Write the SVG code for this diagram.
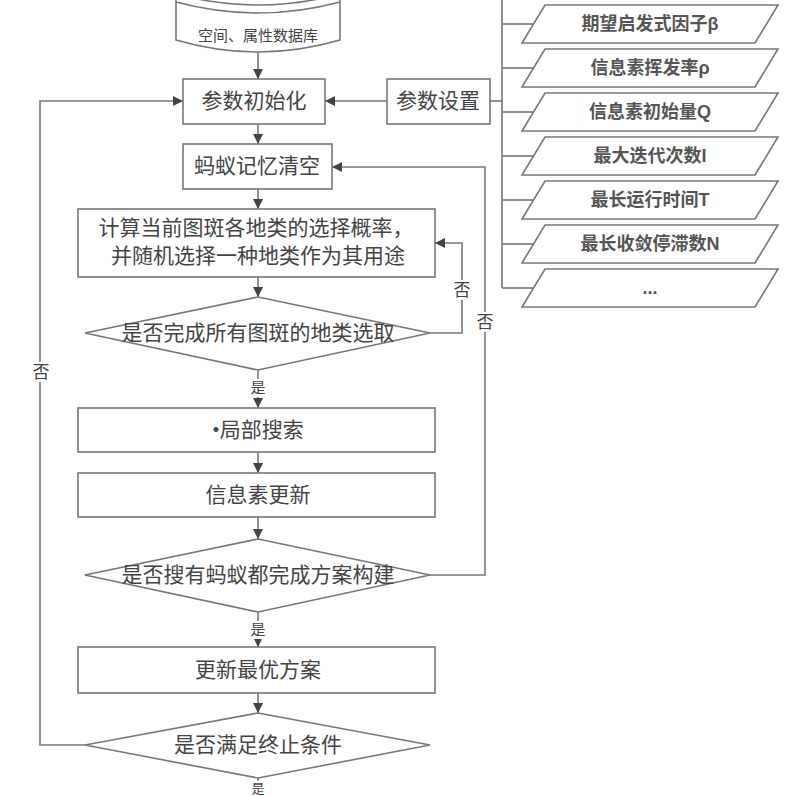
<svg xmlns="http://www.w3.org/2000/svg" width="796" height="796" viewBox="0 0 796 796">
<defs>
<marker id="arr" markerUnits="userSpaceOnUse" markerWidth="10" markerHeight="10" viewBox="0 0 10 10" refX="10" refY="5" orient="auto">
<path d="M0,0 L10,5 L0,10 z" fill="#444"/>
</marker>
</defs>
<style>
.shape{fill:#fff;stroke:#777;stroke-width:1.6}
.ln{fill:none;stroke:#777;stroke-width:1.6}
.t{font-family:"Liberation Serif","Noto Sans CJK SC",serif;fill:#444;text-anchor:middle;dominant-baseline:central}
.big{font-size:21px}
.p{font-size:18px;font-family:"Liberation Sans","Noto Sans CJK SC",sans-serif;font-weight:bold;fill:#555}
.lab{font-size:15px}
.bg{fill:#fff}
</style>
<rect width="796" height="796" fill="#fff"/>

<g id="connectors">
<line class="ln" x1="258" y1="52" x2="258" y2="79" marker-end="url(#arr)"/>
<line class="ln" x1="258" y1="124" x2="258" y2="144" marker-end="url(#arr)"/>
<line class="ln" x1="258" y1="189" x2="258" y2="209" marker-end="url(#arr)"/>
<line class="ln" x1="258" y1="277" x2="258" y2="297" marker-end="url(#arr)"/>
<line class="ln" x1="258" y1="370" x2="258" y2="408" marker-end="url(#arr)"/>
<line class="ln" x1="258" y1="452" x2="258" y2="473" marker-end="url(#arr)"/>
<line class="ln" x1="258" y1="517" x2="258" y2="539" marker-end="url(#arr)"/>
<line class="ln" x1="258" y1="612" x2="258" y2="647" marker-end="url(#arr)"/>
<line class="ln" x1="258" y1="693" x2="258" y2="713" marker-end="url(#arr)"/>
<line class="ln" x1="258" y1="778" x2="258" y2="800"/>
<polyline class="ln" points="430,333 462,333 462,243 435,243" marker-end="url(#arr)"/>
<polyline class="ln" points="430,575 485,575 485,167 332,167" marker-end="url(#arr)"/>
<polyline class="ln" points="85,745 40,745 40,101 183,101" marker-end="url(#arr)"/>
<line class="ln" x1="387" y1="101" x2="325" y2="101" marker-end="url(#arr)"/>
<line class="ln" x1="490" y1="101" x2="502" y2="101"/>
<line class="ln" x1="502" y1="0" x2="502" y2="288"/>
<line class="ln" x1="502" y1="24" x2="534" y2="24"/>
<line class="ln" x1="502" y1="68" x2="534" y2="68"/>
<line class="ln" x1="502" y1="112" x2="534" y2="112"/>
<line class="ln" x1="502" y1="156" x2="534" y2="156"/>
<line class="ln" x1="502" y1="200" x2="534" y2="200"/>
<line class="ln" x1="502" y1="244" x2="534" y2="244"/>
<line class="ln" x1="502" y1="288" x2="534" y2="288"/>
<rect class="bg" x="249" y="379" width="18" height="18"/>
<text class="t lab" x="258" y="388">是</text>
<rect class="bg" x="249" y="621" width="18" height="18"/>
<text class="t lab" x="258" y="630">是</text>
<rect class="bg" x="250" y="781" width="16" height="15"/>
<text class="t" x="258" y="788" style="font-size:13px">是</text>
<rect class="bg" x="452" y="280" width="20" height="20"/>
<text class="t lab" x="462" y="290" style="font-size:17px">否</text>
<rect class="bg" x="475" y="312" width="20" height="20"/>
<text class="t lab" x="485" y="322" style="font-size:17px">否</text>
<rect class="bg" x="30" y="362" width="20" height="20"/>
<text class="t lab" x="41" y="372" style="font-size:17px">否</text>
</g>

<g id="database">
<path class="shape" d="M176,-14 L176,40 Q258,64 340,40 L340,-14 Z"/>
<path class="ln" d="M176,-6 Q258,16 340,-6"/>
<path class="ln" d="M176,2 Q258,24 340,2"/>
<text class="t" x="258" y="36" style="font-size:15px">空间、属性数据库</text>
</g>

<g id="init">
<rect class="shape" x="183" y="79" width="142" height="45"/>
<text class="t big" x="254" y="101">参数初始化</text>
</g>
<g id="params">
<rect class="shape" x="387" y="79" width="103" height="45"/>
<text class="t big" x="438" y="101">参数设置</text>
</g>
<g id="clear">
<rect class="shape" x="183" y="144" width="149" height="45"/>
<text class="t big" x="257" y="166">蚂蚁记忆清空</text>
</g>
<g id="calc">
<rect class="shape" x="78" y="209" width="357" height="68"/>
<text class="t big" x="256" y="228">计算当前图斑各地类的选择概率，</text>
<text class="t big" x="258" y="256">并随机选择一种地类作为其用途</text>
</g>
<g id="dec1">
<polygon class="shape" points="258,297 430,333 258,370 85,333"/>
<text class="t big" x="258" y="333">是否完成所有图斑的地类选取</text>
</g>
<g id="local">
<rect class="shape" x="78" y="408" width="357" height="44"/>
<text class="t big" x="258" y="430">•局部搜索</text>
</g>
<g id="pher">
<rect class="shape" x="78" y="473" width="357" height="44"/>
<text class="t big" x="258" y="495">信息素更新</text>
</g>
<g id="dec2">
<polygon class="shape" points="258,539 430,575 258,612 85,575"/>
<text class="t big" x="258" y="575">是否搜有蚂蚁都完成方案构建</text>
</g>
<g id="best">
<rect class="shape" x="78" y="647" width="357" height="46"/>
<text class="t big" x="258" y="670">更新最优方案</text>
</g>
<g id="dec3">
<polygon class="shape" points="258,713 430,745 258,778 85,745"/>
<text class="t big" x="258" y="745">是否满足终止条件</text>
</g>

<g id="p0"><polygon class="shape" points="545,-39 778,-39 755,-1 522,-1"/></g>
<g id="p1"><polygon class="shape" points="545,5 778,5 755,43 522,43"/><text class="t p" x="650" y="24">期望启发式因子β</text></g>
<g id="p2"><polygon class="shape" points="545,49 778,49 755,87 522,87"/><text class="t p" x="650" y="68">信息素挥发率ρ</text></g>
<g id="p3"><polygon class="shape" points="545,93 778,93 755,131 522,131"/><text class="t p" x="650" y="112">信息素初始量Q</text></g>
<g id="p4"><polygon class="shape" points="545,137 778,137 755,175 522,175"/><text class="t p" x="650" y="156">最大迭代次数I</text></g>
<g id="p5"><polygon class="shape" points="545,181 778,181 755,219 522,219"/><text class="t p" x="650" y="200">最长运行时间T</text></g>
<g id="p6"><polygon class="shape" points="545,225 778,225 755,263 522,263"/><text class="t p" x="650" y="244">最长收敛停滞数N</text></g>
<g id="p7"><polygon class="shape" points="545,269 778,269 755,307 522,307"/><text class="t p" x="650" y="288">...</text></g>
</svg>
